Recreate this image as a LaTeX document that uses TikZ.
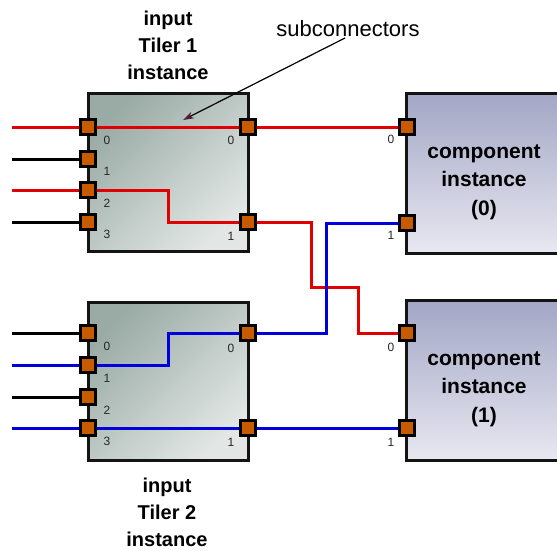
\documentclass[tikz,border=0pt]{standalone}
\usepackage{fontspec}
\setmainfont{Liberation Sans}
\usetikzlibrary{arrows.meta}
\definecolor{tilerA}{HTML}{9AABA5}
\definecolor{tilerB}{HTML}{E2E7E5}
\definecolor{compA}{HTML}{A3A6C5}
\definecolor{compB}{HTML}{E8E8F1}
\definecolor{portc}{HTML}{C85A00}
\definecolor{wred}{HTML}{E00000}
\definecolor{wblue}{HTML}{0000DD}
\definecolor{arrowc}{HTML}{5A1838}
\begin{document}
\begin{tikzpicture}[x=1pt,y=-1pt,
  tiler/.style={draw=black!92, line width=3pt, top color=tilerA, bottom color=tilerB, shading angle=45, minimum width=160pt, minimum height=158pt, inner sep=0pt},
  comp/.style={draw=black!92, line width=3pt, top color=compA, bottom color=compB, minimum width=180pt, minimum height=160pt, inner sep=0pt},
  port/.style={draw=black, line width=3pt, fill=portc, minimum size=14.5pt, inner sep=0pt},
  plabel/.style={font=\fontsize{12}{14}\selectfont, text=black!85, inner sep=0pt},
  title/.style={font=\fontsize{20}{27}\selectfont\bfseries, align=center, inner sep=0pt},
  ctext/.style={font=\fontsize{21}{28.5}\selectfont\bfseries, align=center, inner sep=0pt},
  wire/.style={line width=3pt},
  redw/.style={wire, draw=wred},
  bluew/.style={wire, draw=wblue},
  blackw/.style={wire, draw=black},
]
\clip (0,0) rectangle (557,550);
\fill[white] (0,0) rectangle (557,550);

% boxes
\node[tiler] (t1) at (168,172) {};
\node[tiler] (t2) at (168,381) {};
\node[comp] (c0) at (496,173) {};
\node[comp] (c1) at (496,380.5) {};

% ports (positions)
\coordinate (q1a0) at (88,127);
\coordinate (q1a1) at (88,159);
\coordinate (q1a2) at (88,190);
\coordinate (q1a3) at (88,222);
\coordinate (q1b0) at (248,127);
\coordinate (q1b1) at (248,222);
\coordinate (q2a0) at (88,333);
\coordinate (q2a1) at (88,365);
\coordinate (q2a2) at (88,397);
\coordinate (q2a3) at (88,428);
\coordinate (q2b0) at (248,333);
\coordinate (q2b1) at (248,428);
\coordinate (qc0a) at (407,127);
\coordinate (qc0b) at (407,223);
\coordinate (qc1a) at (407,333);
\coordinate (qc1b) at (407,428);

% free ends
\coordinate (e0) at (12,127);
\coordinate (e1) at (12,159);
\coordinate (e2) at (12,190);
\coordinate (e3) at (12,222);
\coordinate (f0) at (12,333);
\coordinate (f1) at (12,365);
\coordinate (f2) at (12,397);
\coordinate (f3) at (12,428);

% bends
\coordinate (r1) at (168,190);
\coordinate (r2) at (168,222);
\coordinate (r3) at (311,222);
\coordinate (r4) at (311,287);
\coordinate (r5) at (358,287);
\coordinate (r6) at (358,333);
\coordinate (b1) at (168,365);
\coordinate (b2) at (168,333);
\coordinate (b3) at (326,333);
\coordinate (b4) at (326,223);

% wires
\draw[redw] (e0) -- (q1a0) -- (q1b0) -- (qc0a);
\draw[blackw] (e1) -- (q1a1);
\draw[redw, line join=miter] (e2) -- (q1a2) -- (r1) -- (r2) -- (q1b1) -- (r3) -- (r4) -- (r5) -- (r6) -- (qc1a);
\draw[blackw] (e3) -- (q1a3);
\draw[blackw] (f0) -- (q2a0);
\draw[bluew, line join=miter] (f1) -- (q2a1) -- (b1) -- (b2) -- (q2b0) -- (b3) -- (b4) -- (qc0b);
\draw[blackw] (f2) -- (q2a2);
\draw[bluew] (f3) -- (q2a3) -- (q2b1) -- (qc1b);

% port squares
\foreach \p in {q1a0,q1a1,q1a2,q1a3,q1b0,q1b1,q2a0,q2a1,q2a2,q2a3,q2b0,q2b1,qc0a,qc0b,qc1a,qc1b}
  \node[port] (P\p) at (\p) {};

% port labels
\node[plabel] (l1a0) at ([shift={(19,13)}]q1a0) {0};
\node[plabel] (l1a1) at ([shift={(19,12)}]q1a1) {1};
\node[plabel] (l1a2) at ([shift={(19,13)}]q1a2) {2};
\node[plabel] (l1a3) at ([shift={(19,12)}]q1a3) {3};
\node[plabel] (l1b0) at ([shift={(-17,13)}]q1b0) {0};
\node[plabel] (l1b1) at ([shift={(-17,14)}]q1b1) {1};
\node[plabel] (l2a0) at ([shift={(19,13)}]q2a0) {0};
\node[plabel] (l2a1) at ([shift={(19,13)}]q2a1) {1};
\node[plabel] (l2a2) at ([shift={(19,13)}]q2a2) {2};
\node[plabel] (l2a3) at ([shift={(19,13)}]q2a3) {3};
\node[plabel] (l2b0) at ([shift={(-17,15)}]q2b0) {0};
\node[plabel] (l2b1) at ([shift={(-17,14)}]q2b1) {1};
\node[plabel] (lc0a) at ([shift={(-16,12)}]qc0a) {0};
\node[plabel] (lc0b) at ([shift={(-16,12)}]qc0b) {1};
\node[plabel] (lc1a) at ([shift={(-16,14)}]qc1a) {0};
\node[plabel] (lc1b) at ([shift={(-16,14)}]qc1b) {1};

% texts
\node[title] (n1) at (168,45.5) {input\\Tiler 1\\instance};
\node[title] (n2) at (167,512) {input\\Tiler 2\\instance};
\node[ctext] (k0) at (484,182) {component\\instance\\(0)};
\node[ctext] (k1) at (484,389) {component\\instance\\(1)};
\node[font=\fontsize{22}{24}\selectfont, inner sep=0pt] (sub) at (348,29) {subconnectors};

% arrow
\coordinate (as) at (345,38);
\coordinate (ae) at (183,120);
\draw[line width=1.2pt, -{Stealth[length=11pt,width=7pt,color=arrowc]}] (as) -- (ae);
\end{tikzpicture}
\end{document}
